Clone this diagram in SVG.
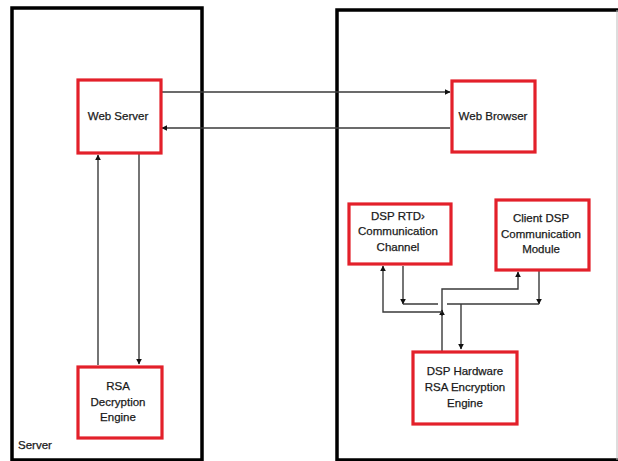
<svg xmlns="http://www.w3.org/2000/svg" width="618" height="461" viewBox="0 0 618 461">
<defs>
<style>
.cont{fill:none;stroke:#000;stroke-width:3.5}
.box{fill:#fff;stroke:#e3202a;stroke-width:3.2}
.lbl{font-family:"Liberation Sans",Arial,sans-serif;font-size:11.5px;fill:#1a1a1a;stroke:#1a1a1a;stroke-width:0.25;text-anchor:middle}
.ln{fill:none;stroke:#3a3a3a;stroke-width:1.4}
.arr{fill:none;stroke:#3a3a3a;stroke-width:1.4;marker-end:url(#ah)}
</style>
<marker id="ah" viewBox="0 0 10 10" refX="9" refY="5" markerWidth="6" markerHeight="6" markerUnits="userSpaceOnUse" orient="auto">
<path d="M0,0 L10,5 L0,10 z" fill="#111"/>
</marker>
</defs>
<rect width="618" height="461" fill="#fff"/>
<g id="server-container">
<rect class="cont" x="12" y="8" width="190" height="452"/>
<text x="18" y="449" font-family="Liberation Sans,Arial,sans-serif" font-size="11.5" fill="#1a1a1a" stroke="#1a1a1a" stroke-width="0.25">Server</text>
</g>
<g id="client-container">
<path class="cont" d="M618,10 H337 V460 H618"/>
<line x1="617" y1="10" x2="617" y2="460" stroke="#bbb" stroke-width="1"/>
</g>
<g id="connectors">
<path class="arr" d="M162,92 H450"/>
<path class="arr" d="M450,128 H162"/>
<path class="arr" d="M98,365 V155"/>
<path class="arr" d="M139,154 V364"/>
<path class="arr" d="M442,351 V289 H518 V272"/>
<path class="arr" d="M442,316 V310"/>
<path class="arr" d="M442,312 H383 V266"/>
<path class="arr" d="M403,266 V304"/>
<path class="ln" d="M403,304 H438"/>
<path class="arr" d="M539,271 V304"/>
<path class="ln" d="M539,304 H447"/>
<path class="arr" d="M461,304 V349"/>
</g>
<g id="web-server">
<rect class="box" x="78" y="80" width="83" height="73"/>
<text class="lbl" x="118" y="120">Web Server</text>
</g>
<g id="web-browser">
<rect class="box" x="452" y="81" width="83" height="71"/>
<text class="lbl" x="493" y="120">Web Browser</text>
</g>
<g id="rsa-decryption">
<rect class="box" x="78" y="367" width="84" height="71"/>
<text class="lbl" x="118" y="390">RSA</text>
<text class="lbl" x="118" y="406">Decryption</text>
<text class="lbl" x="118" y="421">Engine</text>
</g>
<g id="dsp-rtd">
<rect class="box" x="349" y="204" width="102" height="60"/>
<text class="lbl" x="398" y="220">DSP RTD›</text>
<text class="lbl" x="398" y="235">Communication</text>
<text class="lbl" x="398" y="251">Channel</text>
</g>
<g id="client-dsp">
<rect class="box" x="496" y="200" width="93" height="70"/>
<text class="lbl" x="541" y="222">Client DSP</text>
<text class="lbl" x="541" y="238">Communication</text>
<text class="lbl" x="541" y="253">Module</text>
</g>
<g id="dsp-hardware">
<rect class="box" x="413" y="352" width="104" height="72"/>
<text class="lbl" x="465" y="375">DSP Hardware</text>
<text class="lbl" x="465" y="391">RSA Encryption</text>
<text class="lbl" x="465" y="407">Engine</text>
</g>
</svg>
